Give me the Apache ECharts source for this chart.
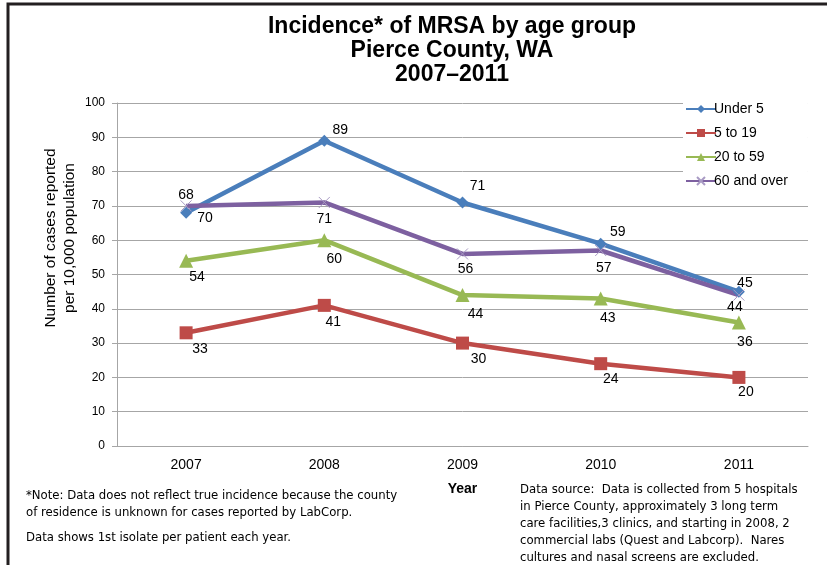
<!DOCTYPE html>
<html>
<head>
<meta charset="utf-8">
<script src="https://cdn.jsdelivr.net/npm/echarts@6/dist/echarts.min.js"></script>
<style>
  html, body { margin: 0; padding: 0; background: #fff; }
  #chart { width: 827px; height: 565px; }
</style>
</head>
<body>
<div id="chart"></div>
<script>
// Survey years and incidence per 10,000 population by age group
const years = ['2007', '2008', '2009', '2010', '2011'];
const under5 = [68, 89, 71, 59, 45];
const age5to19 = [33, 41, 30, 24, 20];
const age20to59 = [54, 60, 44, 43, 36];
const age60plus = [70, 71, 56, 57, 44];
const yTicks = [0, 10, 20, 30, 40, 50, 60, 70, 80, 90, 100];

// Label nudges (px) for each point, so overlapping labels stay readable
const offUnder5 = [[0, -18], [16, -11], [15, -16], [17, -11], [6, -9]];
const off5to19 = [[14, 16], [9, 17], [16, 16], [10, 15], [7, 15]];
const off20to59 = [[11, 16], [10, 19], [13, 19], [7, 20], [6, 20]];
const off60plus = [[19, 12], [0, 17], [3, 15], [3, 18], [-4, 12]];

const xMark = 'path://M0,0 L10,10 M10,0 L0,10';
const FONT = 'Liberation Sans, Arial, sans-serif';
const NOTE_FONT = '13px "Liberation Sans Narrow", "DejaVu Sans Condensed", sans-serif';

function pts(values, offsets) {
  return values.map((v, i) => ({
    value: v,
    label: { offset: offsets[i] }
  }));
}

function line(name, values, offsets, color, symbol, size, symbolStyle) {
  return {
    name: name,
    type: 'line',
    data: pts(values, offsets),
    symbol: symbol,
    symbolSize: size,
    showAllSymbol: true,
    lineStyle: { color: color, width: 4.5 },
    itemStyle: Object.assign({ color: color, borderWidth: 0 }, symbolStyle || {}),
    label: {
      show: true,
      position: 'inside',
      color: '#000',
      fontFamily: FONT,
      fontSize: 14
    },
    emphasis: { disabled: true },
    z: 3
  };
}

const chart = echarts.init(document.getElementById('chart'), null, { renderer: 'canvas' });

chart.setOption({
  animation: false,
  backgroundColor: '#fff',
  title: {
    text: 'Incidence* of MRSA by age group\nPierce County, WA\n2007\u20132011',
    left: 447,
    textAlign: 'center',
    top: 10,
    textStyle: {
      fontFamily: FONT,
      fontWeight: 'bold',
      fontSize: 23,
      lineHeight: 24,
      color: '#000'
    }
  },
  legend: {
    orient: 'vertical',
    left: 683,
    top: 100,
    itemGap: 10,
    itemWidth: 30,
    itemHeight: 10,
    backgroundColor: '#fff',
    padding: [2, 20, 2, 2],
    textStyle: {
      fontFamily: FONT,
      fontSize: 14,
      color: '#000',
      padding: [0, 0, 0, -7]
    },
    data: ['Under 5', '5 to 19', '20 to 59', '60 and over']
  },
  grid: { left: 117, right: 19, top: 103, bottom: 119 },
  xAxis: {
    type: 'category',
    data: years,
    boundaryGap: true,
    axisLine: { lineStyle: { color: '#a6a6a6', width: 1 } },
    axisTick: { show: false },
    axisLabel: {
      color: '#000',
      fontFamily: FONT,
      fontSize: 14,
      margin: 12
    },
    name: 'Year',
    nameLocation: 'middle',
    nameGap: 36,
    nameTextStyle: {
      color: '#000',
      fontFamily: FONT,
      fontWeight: 'bold',
      fontSize: 14
    }
  },
  yAxis: {
    type: 'value',
    min: yTicks[0],
    max: yTicks[yTicks.length - 1],
    interval: yTicks[1] - yTicks[0],
    axisLine: { show: true, lineStyle: { color: '#a6a6a6' } },
    axisTick: { show: true, length: 5, lineStyle: { color: '#a6a6a6' } },
    splitLine: { lineStyle: { color: '#a6a6a6', width: 1 } },
    axisLabel: {
      color: '#000',
      fontFamily: FONT,
      fontSize: 12,
      margin: 12
    }
  },
  series: [
    line('Under 5', under5, offUnder5, '#4a7ebb', 'diamond', 12),
    line('5 to 19', age5to19, off5to19, '#be4b48', 'rect', 13),
    line('20 to 59', age20to59, off20to59, '#98b954', 'triangle', 14),
    line('60 and over', age60plus, off60plus, '#7d60a0', xMark, 11,
      { color: 'transparent', borderColor: '#a99bc4', borderWidth: 1 })
  ],
  graphic: [
    // frame
    { type: 'rect', shape: { x: 8, y: 4, width: 830, height: 580 },
      style: { fill: 'none', stroke: '#231f20', lineWidth: 3 }, z: 10 },
    // y-axis title
    { type: 'text', x: 60, y: 238, rotation: Math.PI / 2,
      style: { text: 'Number of cases reported\nper 10,000 population',
        font: '15.5px ' + FONT, lineHeight: 19, fill: '#000',
        align: 'center', verticalAlign: 'middle' } },
    { type: 'text', left: 26, top: 487,
      style: { text: '*Note: Data does not reflect true incidence because the county\nof residence is unknown for cases reported by LabCorp.',
        font: NOTE_FONT, lineHeight: 17, fill: '#000' } },
    { type: 'text', left: 26, top: 529,
      style: { text: 'Data shows 1st isolate per patient each year.',
        font: NOTE_FONT, lineHeight: 17, fill: '#000' } },
    { type: 'text', left: 520, top: 481,
      style: { text: 'Data source:  Data is collected from 5 hospitals\nin Pierce County, approximately 3 long term\ncare facilities,3 clinics, and starting in 2008, 2\ncommercial labs (Quest and Labcorp).  Nares\ncultures and nasal screens are excluded.',
        font: NOTE_FONT, lineHeight: 17, fill: '#000' } }
  ]
});
</script>
</body>
</html>
